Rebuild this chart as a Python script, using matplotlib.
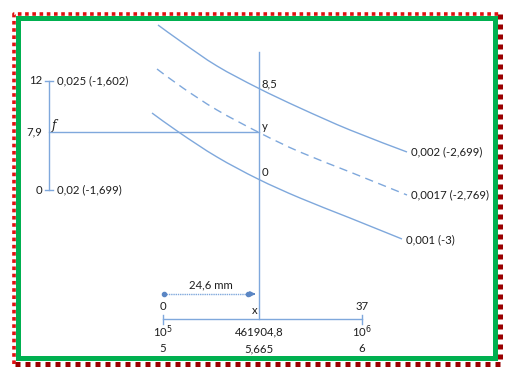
import matplotlib
matplotlib.use("Agg")
import matplotlib.pyplot as plt
from matplotlib.patches import Rectangle, PathPatch
from matplotlib.path import Path

# ---- data (in drawing units) ----
top_x = [158, 183, 217, 258, 300, 350, 407]
top_y = [25, 43, 66, 88, 108, 130, 152]
mid_x = [157, 183, 217, 260, 300, 350, 407]
mid_y = [69, 88, 110, 133, 152, 172, 195]
low_x = [152, 180, 217, 258, 300, 350, 402]
low_y = [113, 133, 157, 179, 198, 218, 239]
curve_labels = ["0,002 (-2,699)", "0,0017 (-2,769)", "0,001 (-3)"]

left_scale_vals = ["12", "7,9", "0"]
left_scale_desc = ["0,025 (-1,602)", "", "0,02 (-1,699)"]
mid_scale_vals = ["8,5", "y", "0"]
bottom_top_labels = ["0", "x", "37"]
bottom_labels_1 = ["10$^5$", "461904,8", "10$^6$"]
bottom_labels_2 = ["5", "5,665", "6"]
dist_label = "24,6 mm"

LINE = "#7fa8dc"
TXT = "#1e1e1e"
FONT = "Lato"
FS = 8.2


def smooth_path(xs, ys):
    """Smooth (Catmull-Rom style) Bezier path through the given points."""
    pts = list(zip(xs, ys))
    verts = [pts[0]]
    codes = [Path.MOVETO]
    n = len(pts)
    for i in range(n - 1):
        p0 = pts[i - 1] if i > 0 else pts[i]
        p1 = pts[i]
        p2 = pts[i + 1]
        p3 = pts[i + 2] if i + 2 < n else pts[i + 1]
        c1 = (p1[0] + (p2[0] - p0[0]) / 6, p1[1] + (p2[1] - p0[1]) / 6)
        c2 = (p2[0] - (p3[0] - p1[0]) / 6, p2[1] - (p3[1] - p1[1]) / 6)
        verts += [c1, c2, p2]
        codes += [Path.CURVE4] * 3
    return Path(verts, codes)


fig = plt.figure(figsize=(5.19, 3.84), dpi=100)
ax = fig.add_axes([0, 0, 1, 1])
ax.set_xlim(0, 519)
ax.set_ylim(384, 0)
ax.axis("off")

# frame
ax.plot([14, 14, 499.5], [364, 14, 14], color="#e01010", lw=2.6, ls=(0, (1, 1)))
ax.plot([499.5, 499.5, 14], [14, 363.5, 363.5], color="#9a0000", lw=3.6, ls=(0, (1, 1)))
ax.add_patch(Rectangle((18, 17.5), 476.5, 340.5, fill=False, ec="#00b050", lw=3.6))

# curves
ax.add_patch(PathPatch(smooth_path(top_x, top_y), fill=False, ec=LINE, lw=1.0))
ax.add_patch(PathPatch(smooth_path(mid_x, mid_y), fill=False, ec=LINE, lw=1.0, ls=(0, (6, 4))))
ax.add_patch(PathPatch(smooth_path(low_x, low_y), fill=False, ec=LINE, lw=1.0))
for xs, ys, lab, dy in [(top_x, top_y, curve_labels[0], 0), (mid_x, mid_y, curve_labels[1], 0),
                        (low_x, low_y, curve_labels[2], 1)]:
    ax.text(xs[-1] + 4, ys[-1] + dy, lab, fontsize=FS, family=FONT, color=TXT,
            ha="left", va="center")

# left scale
lx, ltop, lmid, lbot = 49, 81, 132, 190
ax.plot([lx, lx], [ltop, lbot], color=LINE, lw=1.0)
ax.plot([lx - 4, lx + 4], [ltop, ltop], color=LINE, lw=1.0)
ax.plot([lx - 4, lx + 4], [lbot, lbot], color=LINE, lw=1.0)
for yy, v, d in zip([ltop, lmid, lbot], left_scale_vals, left_scale_desc):
    ax.text(lx - 6.5, yy, v, fontsize=FS, family=FONT, color=TXT, ha="right", va="center")
    if d:
        ax.text(lx + 8, yy, d, fontsize=FS, family=FONT, color=TXT, ha="left", va="center")
ax.text(lx + 3, lmid - 7, "f", fontsize=FS + 0.5, family="DejaVu Serif", style="italic",
        color=TXT, ha="left", va="center")

# horizontal f -> y line and vertical y axis
vx = 259
ax.plot([lx, vx], [lmid, lmid], color=LINE, lw=1.0)
ax.plot([vx, vx], [52, 319], color=LINE, lw=1.0)
for yy, lab in zip([84, 127, 173], mid_scale_vals):
    ax.text(vx + 3, yy, lab, fontsize=FS, family=FONT, color=TXT, ha="left", va="center")

# bottom scale
bx0, bx1, by = 163, 362, 319
ax.plot([bx0, bx1], [by, by], color=LINE, lw=1.0)
ax.plot([bx0, bx0], [315, 324], color=LINE, lw=1.0)
ax.plot([bx1, bx1], [315, 324], color=LINE, lw=1.0)
for xx, t, l1, l2 in zip([bx0, vx, bx1], bottom_top_labels, bottom_labels_1, bottom_labels_2):
    if t == "x":
        ax.text(vx - 2, 310, t, fontsize=FS, family=FONT, color=TXT, ha="right", va="center")
    else:
        ax.text(xx, 307, t, fontsize=FS, family=FONT, color=TXT, ha="center", va="center")
    ax.text(xx, 332, l1, fontsize=FS, family=FONT, color=TXT, ha="center", va="center")
    ax.text(xx, 349, l2, fontsize=FS, family=FONT, color=TXT, ha="center", va="center")

# distance arrow
ax.plot([164, 248], [294, 294], color=LINE, lw=1.0, ls=(0, (1, 0.6)),
        marker="o", ms=3, mfc="#5b86c4", mec="#5b86c4")
ax.annotate("", xy=(vx - 0.5, 294), xytext=(250, 294),
            arrowprops=dict(arrowstyle="-|>", color="#5b86c4", lw=1.0, mutation_scale=8))
ax.text(211, 285, dist_label, fontsize=FS, family=FONT, color=TXT, ha="center", va="center")

fig.savefig("out.png", dpi=100)
